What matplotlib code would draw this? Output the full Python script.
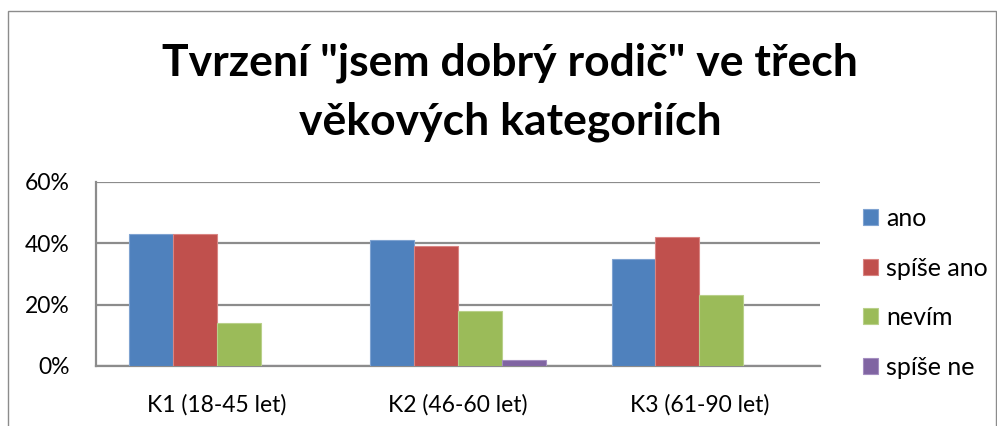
import matplotlib.pyplot as plt
import matplotlib.patches as patches
import numpy as np

plt.rcParams['font.family'] = ['Lato', 'DejaVu Sans']

categories = ['K1 (18-45 let)', 'K2 (46-60 let)', 'K3 (61-90 let)']
series_names = ['ano', 'spíše ano', 'nevím', 'spíše ne']
ano = [43, 41, 35]
spise_ano = [43, 39, 42]
nevim = [14, 18, 23]
spise_ne = [0, 2, 0]
values = [ano, spise_ano, nevim, spise_ne]
colors = ['#4F81BD', '#C0504D', '#9BBB59', '#8064A2']
edges = ['#7FA3D1', '#D98583', '#B9D08A', '#A48EC0']
yticks = [0, 20, 40, 60]

W, H = 997, 426
fig = plt.figure(figsize=(W / 100, H / 100), dpi=100)

# chart frame (bottom edge is cut off in the reference)
fig.patches.append(patches.Rectangle((8 / W, -0.1), (996 - 8) / W, 1.1 - 11 / H,
                                     transform=fig.transFigure, fill=False,
                                     edgecolor='#8C8C8C', linewidth=1.0))

ax = fig.add_axes([96 / W, (H - 366) / H, (820 - 96) / W, (366 - 182) / H])

n = len(series_names)
bw = 1 / 5.5
x = np.arange(len(categories))
for i in range(n):
    ax.bar(x + (i - (n - 1) / 2) * bw, values[i], width=bw, color=colors[i],
           edgecolor=edges[i], linewidth=0.8, label=series_names[i], zorder=3)

ax.set_xlim(-0.5, len(categories) - 0.5)
ax.set_ylim(0, 60)
ax.set_yticks(yticks)
ax.set_yticklabels([f'{v}%' for v in yticks])
ax.set_xticks(x)
ax.set_xticklabels(categories)
ax.tick_params(axis='both', length=0, labelsize=16.5, colors='black')
ax.tick_params(axis='y', pad=19)
ax.tick_params(axis='x', pad=20)
ax.yaxis.grid(True, color='#8C8C8C', linewidth=1.6, zorder=0)
ax.set_axisbelow(True)
for s in ['top', 'right']:
    ax.spines[s].set_visible(False)
for s in ['left', 'bottom']:
    ax.spines[s].set_color('#8C8C8C')
    ax.spines[s].set_linewidth(1.6)

ax.legend(loc='center left', bbox_to_anchor=(1.045, 0.397), frameon=False,
          fontsize=18, handlelength=0.6, handleheight=0.6, handletextpad=0.35,
          labelspacing=1.06, borderaxespad=0)

fig.text(510 / W, 1 - 92 / H, 'Tvrzení "jsem dobrý rodič" ve třech\nvěkových kategoriích',
         ha='center', va='center', fontsize=32, fontweight='bold', linespacing=1.55)

fig.savefig('out.png', dpi=100)
